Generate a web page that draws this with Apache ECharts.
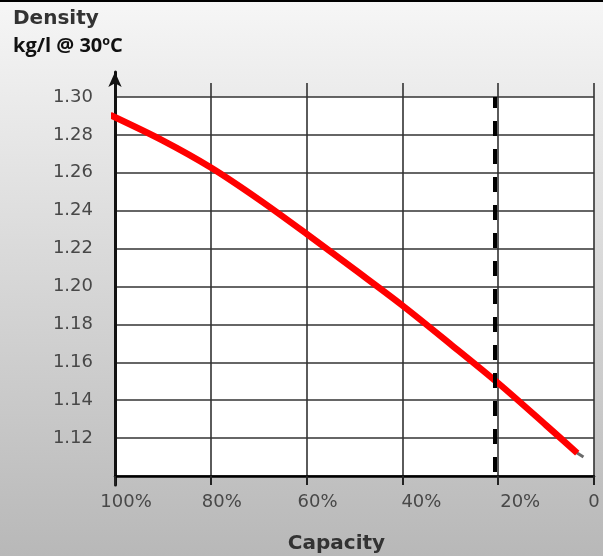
<!DOCTYPE html>
<html>
<head>
<meta charset="utf-8">
<script src="https://cdn.jsdelivr.net/npm/echarts@6/dist/echarts.min.js"></script>
<style>
html,body{margin:0;padding:0;}
#wrap{position:relative;width:603px;height:556px;}
#chart{width:603px;height:556px;}
#topline{position:absolute;left:0;top:0;width:603px;height:2px;background:#000;}
</style>
</head>
<body>
<div id="wrap"><div id="chart"></div><div id="topline"></div></div>
<script>
// ---- data ----
const capacity = [101, 90, 80, 70, 60, 50, 40, 30, 20, 10, 3.5];
const density  = [1.2905, 1.2770, 1.2628, 1.2460, 1.2278, 1.2090, 1.1900, 1.1697, 1.1490, 1.1268, 1.1121];
const tipCapacity = [3.6, 2.2];
const tipDensity  = [1.1123, 1.1100];
const xTickValues = [100, 80, 60, 40, 20, 0];
const xTickLabels = ['100%', '80%', '60%', '40%', '20%', '0'];
const cutoffCapacity = 20.8;
const yMin = 1.10, yMax = 1.30, yStep = 0.02;

// ---- styling helpers ----
const labelShift = {100: 'a', 80: 'a', 60: 'a', 40: 'b', 20: 'c', 0: 'z'};
const labelFont = {fontFamily: 'DejaVu Sans', fontSize: 18, color: '#484848'};

const chart = echarts.init(document.getElementById('chart'));
const option = {
  backgroundColor: {type: 'linear', x: 0, y: 0, x2: 0, y2: 1,
    colorStops: [{offset: 0, color: '#f6f6f6'}, {offset: 1, color: '#b8b8b8'}]},
  animation: false,
  title: [
    {text: 'Density', left: 13, top: 9, padding: 0,
     textStyle: {fontFamily: 'DejaVu Sans', fontWeight: 'bold', fontSize: 20, color: '#333'}},
    {text: 'kg/l @ 30ºC', left: 13, top: 36, padding: 0,
     textStyle: {fontFamily: 'Open Sans', fontWeight: 'bold', fontSize: 20, color: '#111'}}
  ],
  grid: [
    {left: 115, right: 9, top: 97, bottom: 80, show: true, backgroundColor: '#fff', borderWidth: 0, outerBoundsMode: 'none', containLabel: false},
    {left: 115, right: 9, top: 83, bottom: 80, outerBoundsMode: 'none', containLabel: false},
    {left: 115, right: 9, top: 72, bottom: 71, outerBoundsMode: 'none', containLabel: false}
  ],
  xAxis: [
    {gridIndex: 0, type: 'value', min: 0, max: 100, interval: 20, inverse: true,
     axisLine: {show: true, lineStyle: {color: '#000', width: 2.5}},
     axisTick: {show: true, length: 9, lineStyle: {color: '#222', width: 2}},
     splitLine: {show: false},
     axisLabel: {margin: 17,
       formatter: v => { const i = xTickValues.indexOf(v); return '{' + labelShift[v] + '|' + xTickLabels[i] + '}'; },
       rich: {
         a: Object.assign({padding: [0, 0, 0, 22]}, labelFont),
         b: Object.assign({padding: [0, 0, 0, 38]}, labelFont),
         c: Object.assign({padding: [0, 0, 0, 44]}, labelFont),
         z: Object.assign({padding: [0, 0, 0, 0]}, labelFont)
       }},
     name: 'Capacity', nameLocation: 'middle', nameGap: 58,
     nameTextStyle: {fontFamily: 'DejaVu Sans', fontWeight: 'bold', fontSize: 20, color: '#333', padding: [0, 36, 0, 0]}},
    {gridIndex: 1, type: 'value', min: 0, max: 100, interval: 20, inverse: true,
     axisLine: {show: false}, axisTick: {show: false}, axisLabel: {show: false},
     splitLine: {show: true, lineStyle: {color: '#333', width: 1.6}}},
    {gridIndex: 2, type: 'value', min: 0, max: 100, show: false}
  ],
  yAxis: [
    {gridIndex: 0, type: 'value', min: yMin, max: yMax, interval: yStep,
     axisLine: {show: false}, axisTick: {show: false},
     axisLabel: Object.assign({margin: 22, formatter: v => (v <= yMin + 1e-9 ? '' : v.toFixed(2))}, labelFont),
     splitLine: {show: true, lineStyle: {color: '#333', width: 1.6}}},
    {gridIndex: 1, type: 'value', min: 0, max: 1, show: false},
    {gridIndex: 2, type: 'value', min: 0, max: 1,
     axisLine: {show: true, symbol: ['none', 'arrow'], symbolSize: [10, 15], lineStyle: {color: '#111', width: 3}},
     axisTick: {show: false}, axisLabel: {show: false}, splitLine: {show: false}}
  ],
  series: [
    {type: 'line', xAxisIndex: 0, yAxisIndex: 0, data: [],
     markLine: {silent: true, symbol: ['none', 'none'], label: {show: false},
       lineStyle: {color: '#000', width: 4, type: [15, 13], dashOffset: 24},
       data: [{xAxis: cutoffCapacity}]}},
    {type: 'line', xAxisIndex: 0, yAxisIndex: 0, showSymbol: false, clip: false,
     data: tipCapacity.map((c, i) => [c, tipDensity[i]]),
     lineStyle: {color: '#6a6a6a', width: 3}},
    {type: 'line', xAxisIndex: 0, yAxisIndex: 0, smooth: 0.3, showSymbol: false, clip: false,
     data: capacity.map((c, i) => [c, density[i]]),
     lineStyle: {color: '#ff0000', width: 6.5, cap: 'butt'}}
  ]
};
chart.setOption(option);
</script>
</body>
</html>
